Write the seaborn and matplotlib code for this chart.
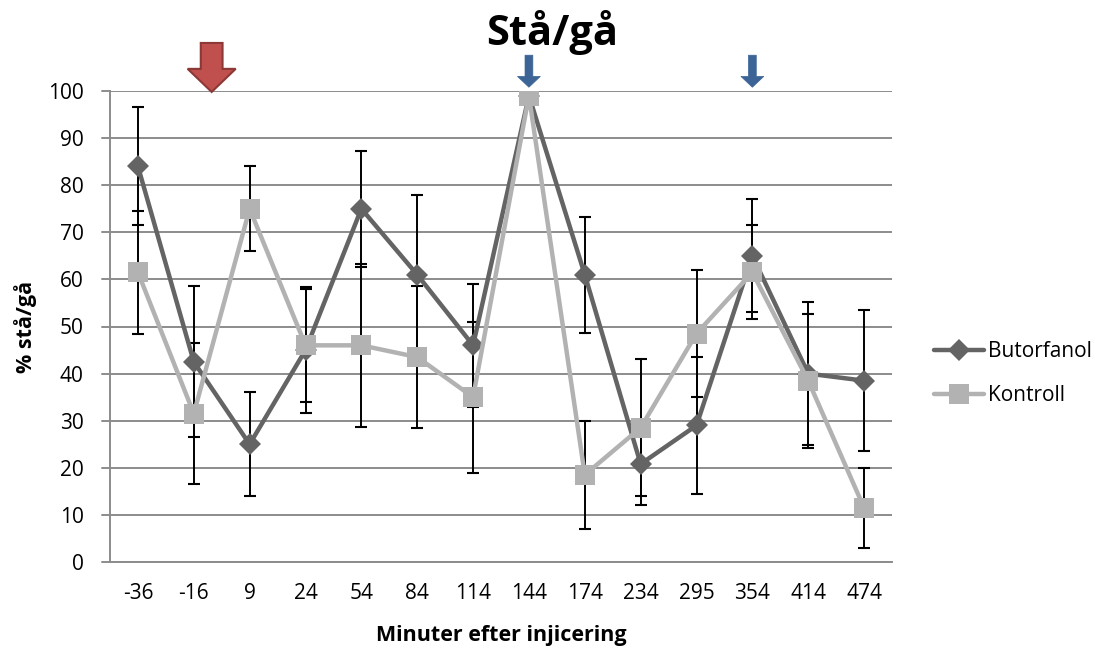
import numpy as np
import pandas as pd
import seaborn as sns
import matplotlib.pyplot as plt
from matplotlib.patches import FancyArrow
from matplotlib.lines import Line2D

# Data
minutes = ["-36", "-16", "9", "24", "54", "84", "114", "144", "174", "234", "295", "354", "414", "474"]
butorfanol = [84, 42.5, 25, 45, 75, 61, 46, 99, 61, 20.8, 29, 65, 40, 38.5]
butorfanol_err = [12.5, 16, 11, 13.3, 12.3, 17, 13, 0, 12.3, 8.6, 14.5, 12, 15.2, 15]
kontroll = [61.5, 31.5, 75, 46, 46, 43.5, 35, 99, 18.5, 28.5, 48.5, 61.5, 38.5, 11.5]
kontroll_err = [13, 15, 9, 12, 17.3, 15, 16, 0, 11.5, 14.5, 13.5, 10, 14.2, 8.5]

df = pd.DataFrame({
    "pos": np.arange(len(minutes)),
    "Butorfanol": butorfanol,
    "Kontroll": kontroll,
})

sns.set_style("white")
plt.rcParams["font.family"] = ["Open Sans", "DejaVu Sans"]
plt.rcParams["text.color"] = "black"
plt.rcParams["axes.labelcolor"] = "black"
plt.rcParams["xtick.color"] = "black"
plt.rcParams["ytick.color"] = "black"

fig = plt.figure(figsize=(11.1, 6.48), dpi=100)
ax = fig.add_axes([110 / 1110, 86 / 648, 782 / 1110, 471 / 648])

dark = "#646464"
light = "#b2b2b2"
grid_c = "#8c8c8c"

# error bars first (under the lines/markers)
ax.errorbar(df["pos"], df["Butorfanol"], yerr=butorfanol_err, fmt="none",
            ecolor="black", elinewidth=1.4, capsize=4, capthick=1.5, zorder=2)
ax.errorbar(df["pos"], df["Kontroll"], yerr=kontroll_err, fmt="none",
            ecolor="black", elinewidth=1.4, capsize=4, capthick=1.5, zorder=2)

sns.lineplot(data=df, x="pos", y="Butorfanol", ax=ax, color=dark, lw=3.2,
             marker="D", markersize=11, markeredgewidth=0, zorder=3)
sns.lineplot(data=df, x="pos", y="Kontroll", ax=ax, color=light, lw=3.2,
             marker="s", markersize=14, markeredgewidth=0, zorder=4)

ax.set_xlim(-0.5, len(minutes) - 0.5)
ax.set_ylim(0, 100)
ax.set_yticks(range(0, 101, 10))
ax.set_xticks(df["pos"])
ax.set_xticklabels(minutes)
ax.tick_params(axis="x", length=0, labelsize=15, pad=15)
ax.tick_params(axis="y", length=0, labelsize=15, pad=19)

# category boundary tick marks on x axis
ax.set_xticks(np.arange(-0.5, len(minutes), 1), minor=True)
ax.tick_params(axis="x", which="minor", length=6, width=1.3, color=grid_c, direction="out")

ax.grid(axis="y", color=grid_c, lw=1.4)
for y in range(0, 101, 10):
    ax.plot([-0.65, -0.5], [y, y], color=grid_c, lw=1.4, clip_on=False, zorder=1)
for s in ["top", "right"]:
    ax.spines[s].set_visible(False)
for s in ["left", "bottom"]:
    ax.spines[s].set_color(grid_c)
    ax.spines[s].set_linewidth(1.4)

ax.set_xlabel("Minuter efter injicering", fontsize=15.5, fontweight="bold", labelpad=15)
ax.set_ylabel("% stå/gå", fontsize=15.5, fontweight="bold", labelpad=8)
fig.text(0.497, 1 - 45 / 648, "Stå/gå", ha="center", va="baseline", fontsize=30, fontweight="bold")

# injection arrows
ax.add_patch(FancyArrow(1.32, 110.2, 0, -10.4, width=0.39, head_width=0.86, head_length=4.9,
                        length_includes_head=True, fc="#c0504d", ec="#8c3836", lw=1.5, clip_on=False, zorder=6))
for xi in [7, 11]:
    ax.add_patch(FancyArrow(xi, 107.6, 0, -6.8, width=0.14, head_width=0.41, head_length=2.3,
                            length_includes_head=True, fc="#3c6496", ec="#3c6496", lw=0.5, clip_on=False, zorder=6))

handles = [
    Line2D([], [], color=dark, lw=3.2, marker="D", markersize=11, markeredgewidth=0),
    Line2D([], [], color=light, lw=3.2, marker="s", markersize=14, markeredgewidth=0),
]
ax.legend(handles, ["Butorfanol", "Kontroll"], loc="center left", bbox_to_anchor=(1.03, 0.4),
          frameon=False, fontsize=15, handlelength=2.4, handletextpad=0.2, labelspacing=1.1)

plt.savefig("out.png", dpi=100)
